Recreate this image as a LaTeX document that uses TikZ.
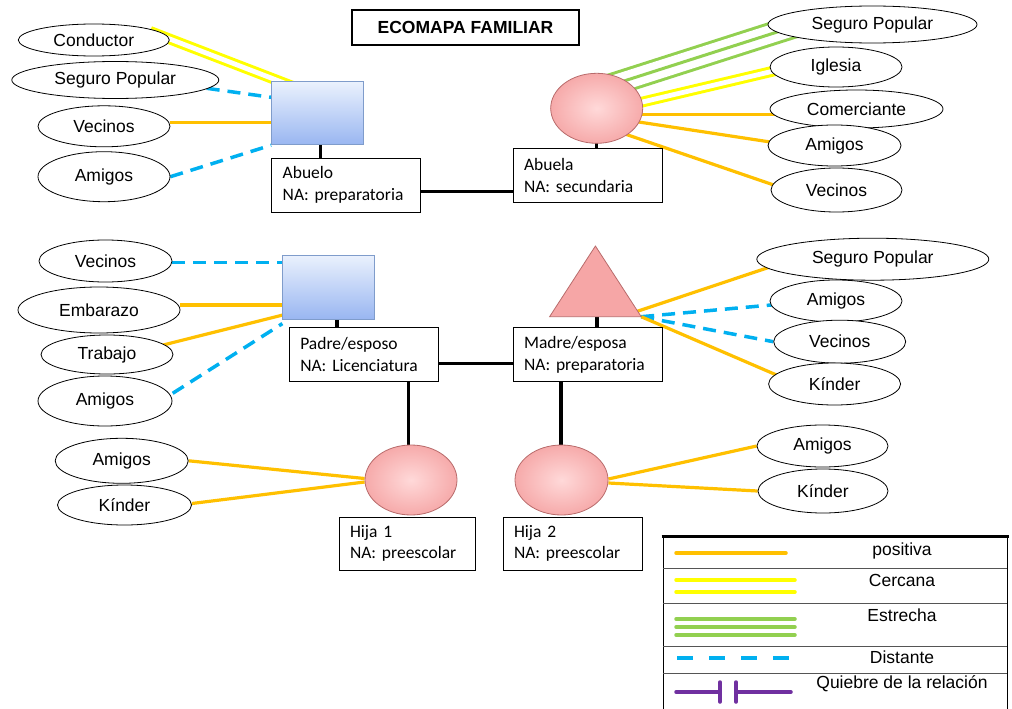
\documentclass[tikz,border=0pt]{standalone}
\usepackage{fontspec}
\setmainfont{Liberation Sans}
\newfontfamily\calfont{Carlito}
\usetikzlibrary{shapes.geometric}
\pgfdeclarelayer{background}
\pgfsetlayers{background,main}
\definecolor{pos}{HTML}{FFC000}
\definecolor{cer}{HTML}{FFFF00}
\definecolor{est}{HTML}{92D050}
\definecolor{dis}{HTML}{00B0F0}
\definecolor{qui}{HTML}{7030A0}
\definecolor{sqtop}{HTML}{EAF1FD}
\definecolor{sqbot}{HTML}{99B6F1}
\definecolor{sqdraw}{HTML}{7F9CCB}
\definecolor{pkin}{HTML}{FFD9D9}
\definecolor{pkout}{HTML}{F6AAAA}
\definecolor{pkdraw}{HTML}{B86B6B}
\definecolor{pktri}{HTML}{F6A6A6}
\definecolor{sepgray}{HTML}{555555}
\begin{document}
\begin{tikzpicture}[x=1pt,y=-1pt,
  ell/.style={ellipse, draw=black, line width=0.8pt, fill=white, inner sep=0pt, font=\fontsize{17.5}{20}\selectfont},
  lbl/.style={rectangle, draw=black, line width=0.9pt, fill=white, inner xsep=11pt, inner ysep=0pt, align=left, minimum height=54pt, text width=#1, font=\calfont\fontsize{17.5}{21.5}\selectfont},
  sq/.style={rectangle, draw=sqdraw, line width=0.8pt, top color=sqtop, bottom color=sqbot, minimum width=92pt, minimum height=63pt, inner sep=0pt},
  fem/.style={ellipse, draw=pkdraw, line width=0.8pt, inner color=pkin, outer color=pkout, minimum width=92pt, minimum height=70pt, inner sep=0pt},
  famline/.style={draw=black, line width=3.5pt},
  positiva/.style={draw=pos, line width=3.2pt},
  cercana/.style={draw=cer, double=white, double distance=4.8pt, line width=3pt},
  estrecha/.style={draw=white, line width=18pt, preaction={draw=est, line width=24pt}, postaction={draw=est, line width=3pt}},
  distante/.style={draw=dis, line width=3.5pt, dash pattern=on 13pt off 8pt},
  legtxt/.style={inner sep=0pt, font=\fontsize{17.5}{20}\selectfont},
  legline/.style={line width=3.5pt, line cap=round}
]
\useasboundingbox (0,0) rectangle (1012,709);

% title
\node[draw=black, line width=1.2pt, minimum width=227pt, minimum height=35pt, inner sep=0pt, font=\bfseries\fontsize{17.5}{20}\selectfont] (title) at (465.5,27.5) {ECOMAPA FAMILIAR};

% ---------- Abuelo ----------
\node[sq] (abuelo) at (317.5,113.3) {};
\node[lbl=127pt] (abueloL) at (346.2,185) {Abuelo\\NA: preparatoria};
\node[ell, minimum width=151pt, minimum height=32pt] (cond) at (93.8,40) {Conductor};
\node[ell, minimum width=207pt, minimum height=37pt] (seg1) at (115.3,80) {Seguro Popular};
\node[ell, minimum width=132pt, minimum height=41pt] (vec1) at (104,126.3) {Vecinos};
\node[ell, minimum width=132pt, minimum height=50pt] (ami1) at (104,176.7) {Amigos};

% ---------- Abuela ----------
\node[fem, minimum width=92pt, minimum height=70pt] (abuela) at (596.7,108.3) {};
\node[lbl=127pt] (abuelaL) at (587.5,175.3) {Abuela\\NA: secundaria};
\node[ell, minimum width=209pt, minimum height=37pt] (segA) at (872.5,24.5) {Seguro Popular};
\node[ell, minimum width=132pt, minimum height=40pt] (igl) at (836,67) {Iglesia};
\node[ell, minimum width=173pt, minimum height=38pt] (com) at (856.5,109) {Comerciante};
\node[ell, minimum width=133pt, minimum height=41pt] (amiA) at (834.5,145.5) {Amigos};
\node[ell, minimum width=131pt, minimum height=44pt] (vecA) at (836.5,190) {Vecinos};

% ---------- Padre ----------
\node[sq, minimum height=64pt] (padre) at (328.8,287.2) {};
\node[lbl=127pt] (padreL) at (363.8,354.7) {Padre/esposo\\NA: Licenciatura};
\node[ell, minimum width=133pt, minimum height=42pt] (vecP) at (105.5,261) {Vecinos};
\node[ell, minimum width=162pt, minimum height=46pt] (emb) at (99,310) {Embarazo};
\node[ell, minimum width=132pt, minimum height=39pt] (trab) at (107,354.5) {Trabajo};
\node[ell, minimum width=134pt, minimum height=50pt] (amiP) at (105,401) {Amigos};

% ---------- Madre ----------
\filldraw[draw=pkdraw, fill=pktri, line width=0.8pt] (595.4,246) coordinate (mTop) -- (641.2,316.7) coordinate (mR) -- (549.6,316.7) coordinate (mL) -- cycle;
\coordinate (mBase) at (597,316.7);
\node[lbl=127pt] (madreL) at (587.6,354.7) {Madre/esposa\\NA: preparatoria};
\node[ell, minimum width=232pt, minimum height=42pt] (segM) at (872.8,259.2) {Seguro Popular};
\node[ell, minimum width=132pt, minimum height=42pt] (amiM) at (836,301) {Amigos};
\node[ell, minimum width=132pt, minimum height=43pt] (vecM) at (839.7,341.7) {Vecinos};
\node[ell, minimum width=132pt, minimum height=42pt] (kinM) at (834.6,384) {Kínder};

% ---------- Hijas ----------
\node[fem] (hija1) at (411,480) {};
\node[lbl=114pt, minimum height=53pt] (hija1L) at (407,543.5) {Hija 1\\NA: preescolar};
\node[fem, minimum width=93pt] (hija2) at (561.5,480) {};
\node[lbl=117pt, minimum height=53pt] (hija2L) at (572.5,543.5) {Hija 2\\NA: preescolar};
\node[ell, minimum width=133pt, minimum height=45pt] (amiH1) at (121.7,460.8) {Amigos};
\node[ell, minimum width=134pt, minimum height=40pt] (kinH1) at (124.5,505) {Kínder};
\node[ell, minimum width=131pt, minimum height=42pt] (amiH2) at (822.5,446) {Amigos};
\node[ell, minimum width=130pt, minimum height=44pt] (kinH2) at (823,491) {Kínder};

% ---------- connectors ----------
\begin{pgfonlayer}{background}
% Abuelo
\draw[cercana] ([shift={(56.2,-8.6)}]cond.center) -- ([shift={(-21.5,-25.7)}]abuelo.center);
\draw[distante] ([shift={(91.4,8.3)}]seg1.center) -- ([yshift=16pt]abuelo.west);
\coordinate (c1) at ([yshift=3.6pt]vec1.east);
\draw[positiva] (c1) -- (c1 -| abuelo.west);
\draw[distante] (ami1.east) -- (abuelo.south west);
% Abuela
\draw[estrecha] ([shift={(7.3,-20.9)}]abuela.center) -- ([shift={(-72.5,0.2)}]segA.center);
\draw[cercana] ([shift={(23.3,-1)}]abuela.center) -- ([shift={(-36,-2.2)}]igl.center);
\coordinate (c2) at ([shift={(0,6)}]abuela.center);
\draw[positiva] (c2) -- (c2 -| com.center);
\draw[positiva] ([shift={(0,7.3)}]abuela.center) -- ([shift={(-44.5,-0.5)}]amiA.center);
\draw[positiva] ([shift={(0,16)}]abuela.center) -- ([shift={(-41.5,2.3)}]vecA.center);
% family lines
\coordinate (v1) at ([xshift=3.2pt]abuelo.center);
\draw[famline] (v1) -- (v1 |- abueloL.north);
\draw[famline] (abuela.center) -- (abuela.center |- abuelaL.north);
\coordinate (h1) at ([yshift=-6.7pt]abueloL.east);
\draw[famline] (h1) -- (h1 -| abuelaL.west);
\coordinate (v2) at ([xshift=8pt]padre.center);
\draw[famline] (v2) -- (v2 |- padreL.north);
\draw[famline] (mBase) -- (mBase |- madreL.north);
\coordinate (h2) at ([yshift=-8.6pt]padreL.east);
\draw[famline] (h2) -- (h2 -| madreL.west);
\coordinate (v3) at ([xshift=-2.5pt]hija1.center);
\draw[famline] (v3) -- (v3 |- padreL.south);
\coordinate (v4) at ([xshift=-0.7pt]hija2.center);
\draw[famline] (v4) -- (v4 |- madreL.south);
% Padre
\coordinate (p1) at ([yshift=-1.5pt]vecP.east);
\draw[distante] (p1) -- (p1 -| padre.west);
\coordinate (p2) at ([yshift=5pt]emb.east);
\draw[positiva] (p2) -- (p2 -| padre.west);
\draw[positiva] ([shift={(43,-6.2)}]trab.center) -- ([shift={(-36.8,25.5)}]padre.center);
\draw[distante] ([shift={(67.7,-7.7)}]amiP.center) -- ([yshift=-4pt]padre.south west);
% Madre
\draw[positiva] ([shift={(-8,-4)}]mR) -- ([shift={(-82.8,1.1)}]segM.center);
\draw[distante] (mR) -- ([shift={(-46,2.3)}]amiM.center);
\draw[distante] (mR) -- (vecM.west);
\draw[positiva] (mR) -- ([shift={(-44.6,-3.2)}]kinM.center);
% Hijas
\draw[positiva] (amiH1.east) -- ([yshift=1.5pt]hija1.west);
\draw[positiva] ([yshift=1.5pt]kinH1.east) -- ([yshift=-2pt]hija1.west);
\draw[positiva] ([yshift=1pt]hija2.east) -- (amiH2.west);
\draw[positiva] ([yshift=-3pt]hija2.east) -- (kinH2.west);
\end{pgfonlayer}

% ---------- legend ----------
\draw[line width=0.9pt] (663,536) -- (663,709);
\draw[line width=0.9pt] (1007,536) -- (1007,709);
\draw[line width=3.5pt] (661.5,536.5) -- (1008.5,536.5);
\foreach \yy in {568,603,646,673} \draw[sepgray, line width=1pt] (663,\yy) -- (1007,\yy);
\draw[legline, draw=pos] (676,553) -- (786,553);
\draw[legline, draw=cer] (676,580) -- (795,580);
\draw[legline, draw=cer] (676,592) -- (795,592);
\draw[legline, draw=est] (676,619) -- (795,619);
\draw[legline, draw=est] (676,627) -- (795,627);
\draw[legline, draw=est] (676,635) -- (795,635);
\draw[line width=3.5pt, draw=dis, dash pattern=on 16pt off 16pt] (677,658) -- (791,658);
\draw[legline, draw=qui] (676,692) -- (720,692);
\draw[legline, draw=qui] (720,682) -- (720,702);
\draw[legline, draw=qui] (736,682) -- (736,702);
\draw[legline, draw=qui] (736,692) -- (791,692);
\node[legtxt] (lt1) at (902,551) {positiva};
\node[legtxt] (lt2) at (902,580) {Cercana};
\node[legtxt] (lt3) at (902,615) {Estrecha};
\node[legtxt] (lt4) at (902,657) {Distante};
\node[legtxt] (lt5) at (902,684) {Quiebre de la relación};
\end{tikzpicture}
\end{document}
